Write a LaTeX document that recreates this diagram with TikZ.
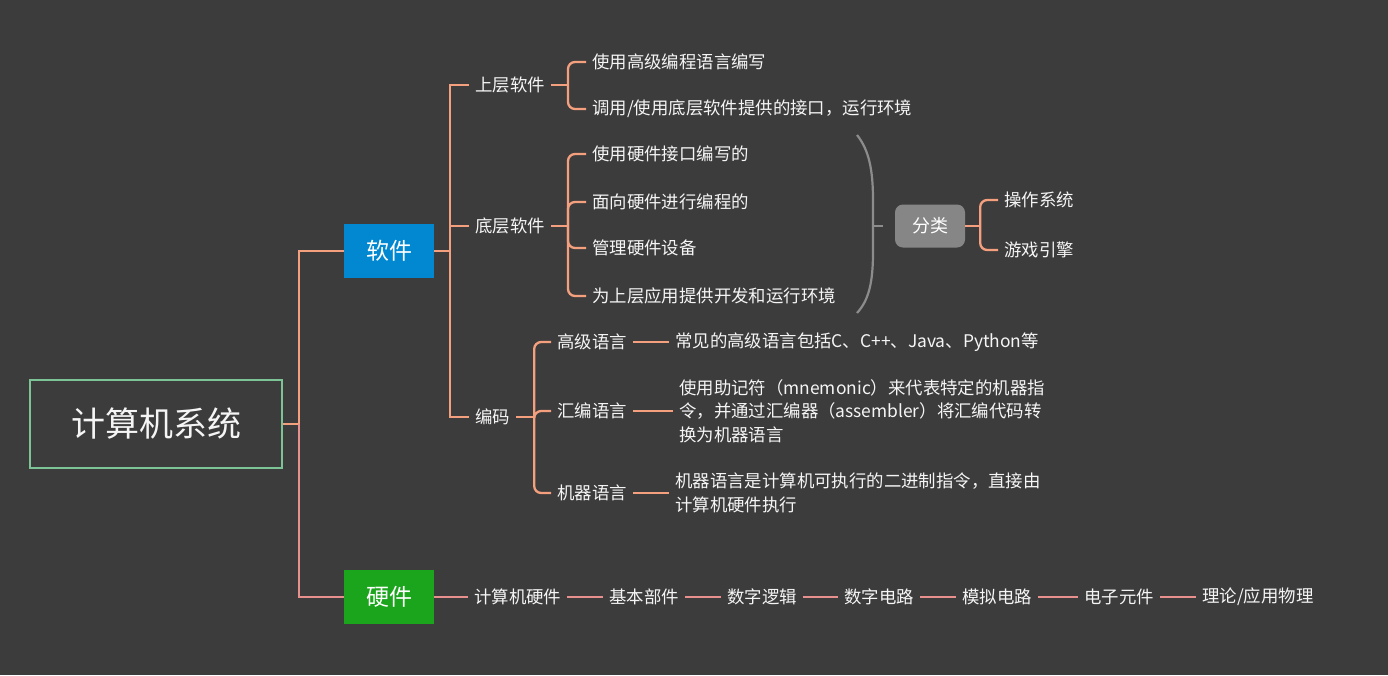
\documentclass[tikz,border=0pt]{standalone}
\usepackage{fontspec}
\setmainfont{Noto Sans CJK SC}
\usetikzlibrary{calc}
\definecolor{bg}{HTML}{3C3C3C}
\definecolor{orl}{HTML}{F4A07E}
\definecolor{pkl}{HTML}{E8908E}
\definecolor{txc}{HTML}{F5F5F5}
\definecolor{rootg}{HTML}{7CC495}
\definecolor{swblue}{HTML}{0288D1}
\definecolor{hwgreen}{HTML}{1AA51C}
\definecolor{clsgray}{HTML}{868686}
\definecolor{brgray}{HTML}{8C8C8C}
\begin{document}
\begin{tikzpicture}[x=1pt,y=-1pt,
  txt/.style={text=txc,font=\fontsize{17.4}{23.5}\selectfont,inner xsep=6pt,inner ysep=2pt,anchor=west},
  desc/.style={txt,align=left},
  conn/.style={draw=orl,line width=2.3pt},
  hconn/.style={draw=pkl,line width=2.3pt},
  brace/.style={conn,rounded corners=7pt},
  topbox/.style={text=white,font=\fontsize{23}{26}\selectfont,minimum width=90pt,minimum height=54pt,inner sep=0pt}
]
\fill[bg] (0,0) rectangle (1388,675);
\useasboundingbox (0,0) rectangle (1388,675);

% root
\node[draw=rootg,line width=2.5pt,minimum width=252pt,minimum height=88pt,text=txc,font=\fontsize{34}{38}\selectfont,inner sep=0pt] (root) at (156,424) {计算机系统};
\node[topbox,fill=swblue] (sw) at (389,251) {软件};
\node[topbox,fill=hwgreen] (hw) at (389,597) {硬件};

\coordinate (rj) at ($(root.east)+(16,0)$);
\draw[conn] (root.east) -- (rj);
\draw[conn] (rj) |- (sw.west);
\draw[hconn] (rj) |- (hw.west);

% software level 1
\node[txt] (up) at (469,85) {上层软件};
\node[txt] (low) at (469,226) {底层软件};
\node[txt] (code) at (469,417) {编码};
\coordinate (sj) at ($(sw.east)+(16,0)$);
\draw[conn] (sw.east) -- (sj);
\draw[conn] (up.west) -| (sj) |- (code.west);
\draw[conn] (sj) |- (low.west);

% upper software
\node[txt] (u1) at (586,62) {使用高级编程语言编写};
\node[txt] (u2) at (586,109) {调用/使用底层软件提供的接口，运行环境};
\coordinate (uj) at ($(up.east)+(17,0)$);
\draw[conn] (up.east) -- (uj);
\foreach \c in {u1,u2} \draw[brace] (uj) |- (\c.west);

% lower software
\node[txt] (l1) at (586,154) {使用硬件接口编写的};
\node[txt] (l2) at (586,202) {面向硬件进行编程的};
\node[txt] (l3) at (586,248) {管理硬件设备};
\node[txt] (l4) at (586,296) {为上层应用提供开发和运行环境};
\coordinate (lj) at ($(low.east)+(17,0)$);
\draw[conn] (low.east) -- (lj);
\foreach \c in {l1,l2,l3,l4} \draw[brace] (lj) |- (\c.west);

% summary brace
\coordinate (btop) at (857,135);
\coordinate (bbot) at (857,313);
\coordinate (bmid) at (873,226);
\draw[draw=brgray,line width=2.2pt] (btop) .. controls (869,150) and (873,170) .. (873,200) -- (873,252) .. controls (873,282) and (869,300) .. (bbot);
\node[fill=clsgray,rounded corners=8pt,minimum width=70pt,minimum height=43pt,inner sep=0pt,text=white,font=\fontsize{18}{20}\selectfont] (cls) at (930,226) {分类};
\draw[draw=brgray,line width=2.2pt] (bmid) -- ($(cls.west)+(-12,0)$);

\node[txt] (os) at (998,200) {操作系统};
\node[txt] (ge) at (998,250) {游戏引擎};
\coordinate (cj) at ($(cls.east)+(15,0)$);
\draw[conn] (cls.east) -- (cj);
\foreach \c in {os,ge} \draw[brace] (cj) |- (\c.west);

% coding
\node[txt] (hl) at (551,342) {高级语言};
\node[txt] (asm) at (551,411) {汇编语言};
\node[txt] (ml) at (551,493) {机器语言};
\coordinate (kj) at ($(code.east)+(18,0)$);
\draw[conn] (code.east) -- (kj);
\foreach \c in {hl,asm,ml} \draw[brace] (kj) |- (\c.west);

\node[txt] (hld) at (669,342) {常见的高级语言包括C、C++、Java、Python等};
\node[desc] (asmd) at (673,411) {使用助记符（mnemonic）来代表特定的机器指\\令，并通过汇编器（assembler）将汇编代码转\\换为机器语言};
\node[desc] (mld) at (669,493) {机器语言是计算机可执行的二进制指令，直接由\\计算机硬件执行};
\draw[conn] (hl.east) -- (hld.west);
\draw[conn] (asm.east) -- (asmd.west);
\draw[conn] (ml.east) -- (mld.west);

% hardware chain
\node[txt] (h1) at (468,597) {计算机硬件};
\node[txt] (h2) at (603,597) {基本部件};
\node[txt] (h3) at (721,597) {数字逻辑};
\node[txt] (h4) at (838,597) {数字电路};
\node[txt] (h5) at (956,597) {模拟电路};
\node[txt] (h6) at (1078,597) {电子元件};
\node[txt] (h7) at (1196,597) {理论/应用物理};
\draw[hconn] (hw.east) -- (h1.west);
\draw[hconn] (h1.east) -- (h2.west);
\draw[hconn] (h2.east) -- (h3.west);
\draw[hconn] (h3.east) -- (h4.west);
\draw[hconn] (h4.east) -- (h5.west);
\draw[hconn] (h5.east) -- (h6.west);
\draw[hconn] (h6.east) -- (h7.west);
\end{tikzpicture}
\end{document}
